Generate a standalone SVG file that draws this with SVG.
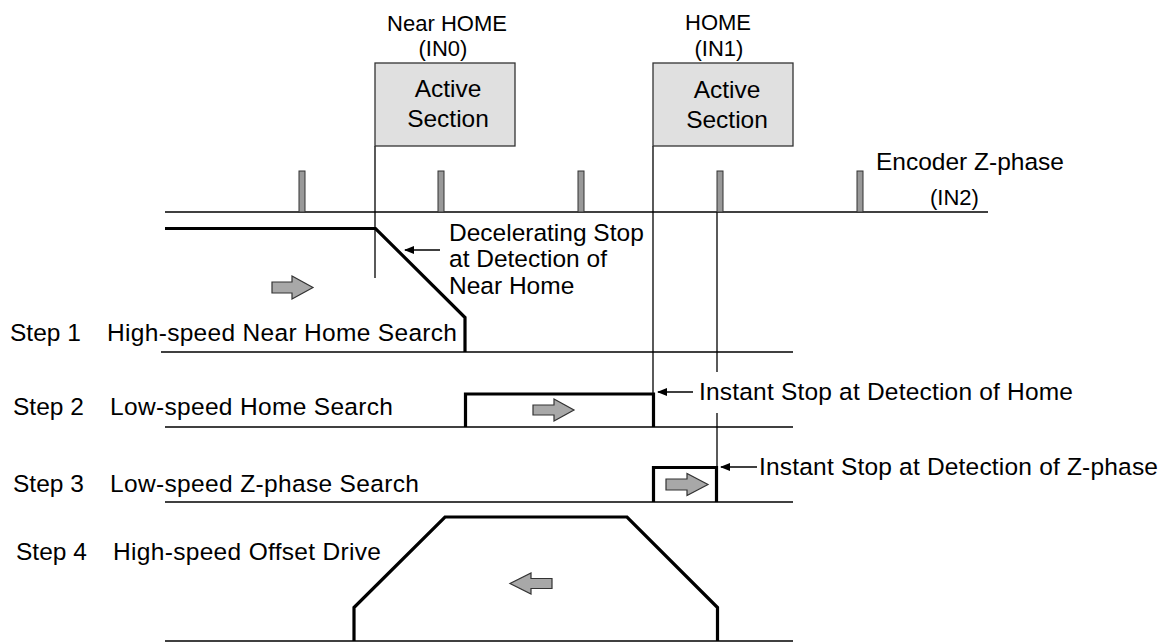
<svg xmlns="http://www.w3.org/2000/svg" width="1170" height="642" viewBox="0 0 1170 642">
<style>
  text { font-family: "Liberation Sans", Arial, sans-serif; fill: #000; }
  .t { font-size: 24.5px; }
  .s { font-size: 22px; }
  .thin { stroke: #000; stroke-width: 1.3; fill: none; }
  .thick { stroke: #000; stroke-width: 3.2; fill: none; stroke-linejoin: miter; }
  .box { fill: #e0e0e0; stroke: #333; stroke-width: 1.3; }
  .pulse { fill: #999; stroke: #333; stroke-width: 1; }
  .blk { fill: #a8a8a8; stroke: #333; stroke-width: 1.2; }
  .ptr { stroke: #000; stroke-width: 1.5; fill: none; marker-end: url(#ah); }
</style>
<defs>
  <marker id="ah" viewBox="0 0 10 8" refX="9" refY="4" markerWidth="10" markerHeight="8" markerUnits="userSpaceOnUse" orient="auto">
    <path d="M0,0 L10,4 L0,8 Z" fill="#000"/>
  </marker>
</defs>
<rect width="1170" height="642" fill="#fff"/>

<g id="connectors">
  <!-- axes -->
  <line class="thin" x1="165" y1="212" x2="988" y2="212"/>
  <line class="thin" x1="161" y1="352" x2="793" y2="352"/>
  <line class="thin" x1="165" y1="427" x2="793" y2="427"/>
  <line class="thin" x1="165" y1="502" x2="793" y2="502"/>
  <line class="thin" x1="165" y1="641" x2="793" y2="641"/>
  <!-- verticals -->
  <line class="thin" x1="375" y1="146" x2="375" y2="278"/>
  <line class="thin" x1="653" y1="146" x2="653" y2="427"/>
  <line class="thin" x1="717" y1="212" x2="717" y2="372"/>
  <line class="thin" x1="717" y1="413" x2="717" y2="502"/>
  <!-- pointer arrows -->
  <line class="ptr" x1="440" y1="250" x2="405" y2="250"/>
  <line class="ptr" x1="693" y1="392" x2="658" y2="392"/>
  <line class="ptr" x1="757" y1="467" x2="721" y2="467"/>
</g>

<g id="near-home">
  <text class="s" x="447" y="31" text-anchor="middle">Near HOME</text>
  <text class="s" x="443" y="56" text-anchor="middle">(IN0)</text>
  <rect class="box" x="375" y="63" width="140" height="83"/>
  <text class="t" x="448" y="97" text-anchor="middle">Active</text>
  <text class="t" x="448" y="127" text-anchor="middle">Section</text>
</g>

<g id="home">
  <text class="s" x="718" y="30" text-anchor="middle">HOME</text>
  <text class="s" x="719" y="56" text-anchor="middle">(IN1)</text>
  <rect class="box" x="653" y="63" width="140" height="83"/>
  <text class="t" x="727" y="98" text-anchor="middle">Active</text>
  <text class="t" x="727" y="128" text-anchor="middle">Section</text>
</g>

<g id="encoder">
  <rect class="pulse" x="299" y="171" width="6" height="41"/>
  <rect class="pulse" x="438" y="171" width="6" height="41"/>
  <rect class="pulse" x="578" y="171" width="6" height="41"/>
  <rect class="pulse" x="717" y="171" width="6" height="41"/>
  <rect class="pulse" x="857" y="171" width="6" height="41"/>
  <text class="t" x="876" y="170">Encoder Z-phase</text>
  <text class="s" x="930" y="205">(IN2)</text>
</g>

<g id="step1">
  <text class="t" x="10" y="340.5">Step 1</text>
  <text class="t" x="107" y="340.5" textLength="350">High-speed Near Home Search</text>
  <polyline class="thick" points="165,228.5 375.5,228.5 465,317.5 465,352"/>
  <path class="blk" d="M272,282 H292 V276 L313,287.5 L292,299 V293 H272 Z"/>
  <text class="t" x="449" y="240.5">Decelerating Stop</text>
  <text class="t" x="449" y="267">at Detection of</text>
  <text class="t" x="449" y="294">Near Home</text>
</g>

<g id="step2">
  <text class="t" x="13" y="415">Step 2</text>
  <text class="t" x="110" y="415" textLength="283">Low-speed Home Search</text>
  <polyline class="thick" points="465.5,427 465.5,394 653.5,394 653.5,427"/>
  <path class="blk" d="M533,405 H554 V399 L574,410 L554,421 V415 H533 Z"/>
  <text class="t" x="699" y="400" textLength="374">Instant Stop at Detection of Home</text>
</g>

<g id="step3">
  <text class="t" x="13" y="491.5">Step 3</text>
  <text class="t" x="110" y="491.5" textLength="309">Low-speed Z-phase Search</text>
  <polyline class="thick" points="653.5,502 653.5,467.5 716.5,467.5 716.5,502"/>
  <path class="blk" d="M666,479 H687 V473.5 L708,484.5 L687,495.5 V490 H666 Z"/>
  <text class="t" x="759" y="475" textLength="399">Instant Stop at Detection of Z-phase</text>
</g>

<g id="step4">
  <text class="t" x="16" y="560">Step 4</text>
  <text class="t" x="113" y="560" textLength="268">High-speed Offset Drive</text>
  <polyline class="thick" points="354,641 354,607.5 445,517 627,517 717.5,607.5 717.5,641"/>
  <path class="blk" d="M552,578.5 H531 V573 L510,583.5 L531,594 V588.5 H552 Z"/>
</g>
</svg>
